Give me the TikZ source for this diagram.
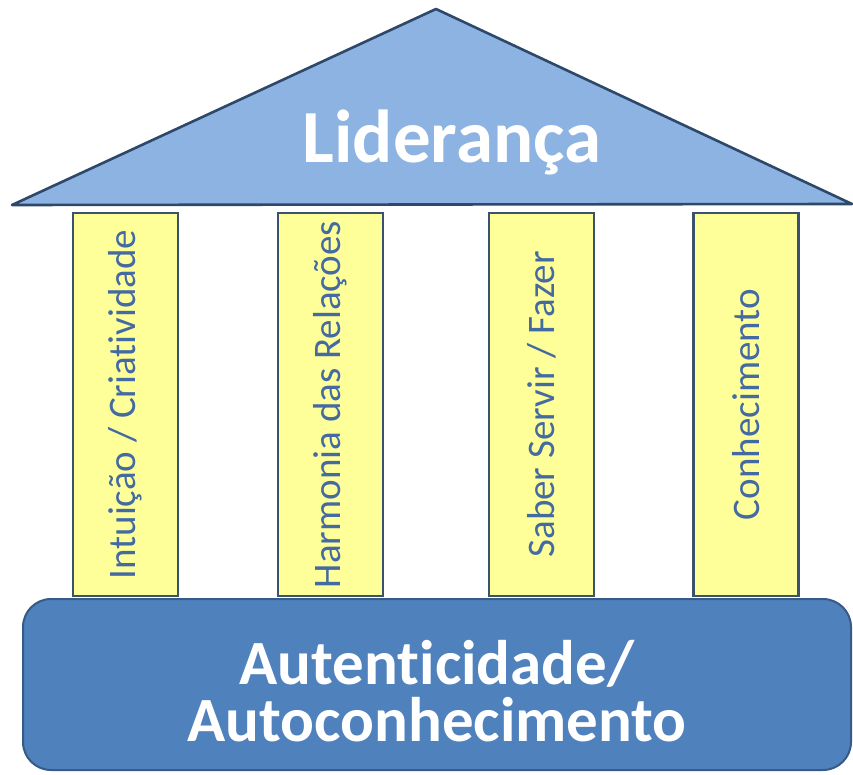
\documentclass[tikz,border=0pt]{standalone}
\usepackage{fontspec}
\setmainfont{Carlito}[Ligatures=NoCommon,RawFeature=-calt,RawFeature=-clig,RawFeature=-dlig]
\definecolor{roofblue}{RGB}{141,179,226}
\definecolor{roofline}{RGB}{46,72,106}
\definecolor{baseblue}{RGB}{79,129,189}
\definecolor{baseline}{RGB}{56,90,136}
\definecolor{pillarfill}{RGB}{255,255,153}
\definecolor{pillarline}{RGB}{58,82,110}
\definecolor{pillartext}{RGB}{68,106,162}
\begin{document}
\begin{tikzpicture}
[x=1pt,y=-1pt,
  roofdecorate/.style={fill=roofblue,draw=roofline,line width=2.6pt,line join=round},%
  pillardecorate/.style={shape=rectangle,draw=pillarline,fill=pillarfill,line width=2.6pt,
    minimum width=383pt,minimum height=105pt,inner sep=0pt,rotate=90,
    text=pillartext,font=\fontsize{39}{42}\selectfont},%
  basedecorate/.style={shape=rectangle,rounded corners=28pt,draw=baseline,fill=baseblue,
    line width=2pt,minimum width=828pt,minimum height=171pt},%
  basetextdecorate/.style={align=center,text=white,font=\bfseries\fontsize{63}{57}\selectfont}]
\useasboundingbox (0,0) rectangle (853,775);
%% roof
\coordinate (roofleft) at (12,205);
\coordinate (roofapex) at (436,9);
\coordinate (roofright) at (852,204);
\draw[roofdecorate] (roofleft) -- (roofapex) -- (roofright) -- cycle;
\node (lider) at (452,142) [text=white,font=\bfseries\fontsize{75}{78}\selectfont] {Liderança};
%% pillars
\foreach \nodename/\x/\label in {intuicao/125.5/{Intuição / Criatividade},
  harmonia/330.5/{Harmonia das Relações}, saber/541.5/{Saber Servir / Fazer},
  conhec/746/{Conhecimento}} {
  \node (\nodename) at (\x,404.5) [pillardecorate] {\label};
}
%% base
\node (base) at (437,684.5) [basedecorate] {};
\node (basetext) at ([yshift=-7pt]base.center) [basetextdecorate] {Autenticidade/\\Autoconhecimento};
\end{tikzpicture}
\end{document}
